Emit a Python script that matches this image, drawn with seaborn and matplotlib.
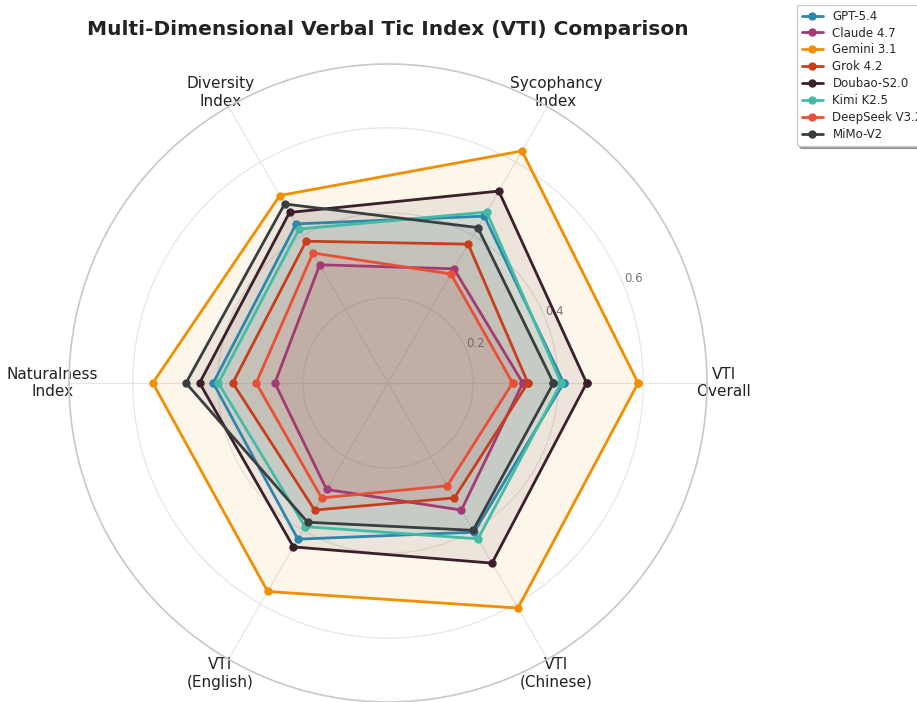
import matplotlib
matplotlib.use("Agg")
import matplotlib.pyplot as plt
import seaborn as sns
import numpy as np

# dimensions, counter-clockwise from the right
dimensions = ["VTI\nOverall", "Sycophancy\nIndex", "Diversity\nIndex",
              "Naturalness\nIndex", "VTI\n(English)", "VTI\n(Chinese)"]

models = ["GPT-5.4", "Claude 4.7", "Gemini 3.1", "Grok 4.2",
          "Doubao-S2.0", "Kimi K2.5", "DeepSeek V3.2", "MiMo-V2"]

gpt = [0.413, 0.453, 0.432, 0.411, 0.424, 0.405]
claude = [0.317, 0.310, 0.321, 0.266, 0.289, 0.345]
gemini = [0.588, 0.630, 0.509, 0.553, 0.566, 0.611]
grok = [0.329, 0.377, 0.385, 0.365, 0.345, 0.312]
doubao = [0.467, 0.521, 0.463, 0.443, 0.445, 0.489]
kimi = [0.407, 0.464, 0.418, 0.399, 0.390, 0.423]
deepseek = [0.293, 0.296, 0.353, 0.310, 0.312, 0.279]
mimo = [0.389, 0.422, 0.486, 0.475, 0.378, 0.400]

colors = ["#2E86AB", "#A23B72", "#F18F01", "#C73E1D",
          "#3B1F2B", "#44BBA4", "#E94F37", "#393E41"]

sns.set_style("white")
plt.rcParams['font.family'] = ['DejaVu Sans']

series = [gpt, claude, gemini, grok, doubao, kimi, deepseek, mimo]
palette = sns.color_palette(colors)

angles = np.linspace(0, 2 * np.pi, len(dimensions), endpoint=False)
closed = np.concatenate([angles, angles[:1]])

fig = plt.figure(figsize=(9.17, 7.02), dpi=100)
ax = fig.add_axes([69 / 917, 0, 638 / 917, 638 / 702], polar=True)

for name, vals, col in zip(models, series, palette):
    v = np.concatenate([vals, vals[:1]])
    ax.plot(closed, v, color=col, linewidth=2, marker='o', markersize=5, label=name)
    ax.fill(closed, v, color=col, alpha=0.08)

ax.set_ylim(0, 0.75)
ax.set_yticks([0.2, 0.4, 0.6])
ax.set_yticklabels(["0.2", "0.4", "0.6"], fontsize=8.5, color="#777777")
ax.set_rlabel_position(22.5)
ax.set_xticks(angles)
ax.set_xticklabels(dimensions, fontsize=11, color="#222222")
ax.tick_params(axis='x', pad=1.5)
ax.grid(True, color="#e6e6e6", linewidth=0.9)
ax.spines['polar'].set_color("#c8c8c8")
ax.spines['polar'].set_linewidth(1.2)

ax.set_title("Multi-Dimensional Verbal Tic Index (VTI) Comparison",
             fontsize=14.5, fontweight='bold', color="#222222", pad=21)

ax.legend(loc='upper left', bbox_to_anchor=(797 / 917, 0.993),
          bbox_transform=fig.transFigure, borderaxespad=0,
          fontsize=8.5, labelspacing=0.33, handlelength=1.8,
          frameon=True, shadow=True, fancybox=True)

fig.savefig("out.png", dpi=100)
